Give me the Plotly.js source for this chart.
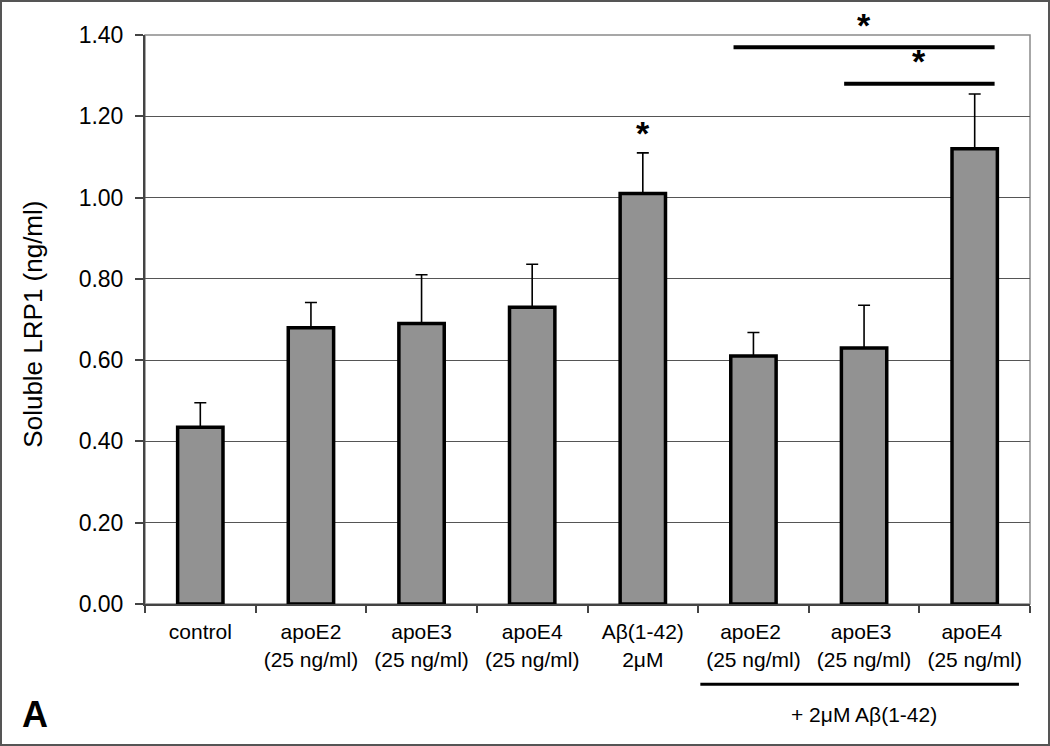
<!DOCTYPE html>
<html>
<head>
<meta charset="utf-8">
<script src="https://cdn.plot.ly/plotly-3.0.1.min.js"></script>
<style>
  body { margin: 0; background: #fff; }
  #lrp { width: 1050px; height: 746px; }
  #frame { position: absolute; left: 0; top: 0; width: 1050px; height: 746px;
           box-sizing: border-box; border: 2px solid #555; pointer-events: none; }
</style>
</head>
<body>
<div id="lrp"></div>
<div id="frame"></div>
<script>
// soluble LRP1 per treatment
var groups = ['control', 'apoE2<br>(25 ng/ml)', 'apoE3<br>(25 ng/ml)', 'apoE4<br>(25 ng/ml)',
              'Aβ(1-42)<br>2μM', 'apoE2 <br>(25 ng/ml)', 'apoE3 <br>(25 ng/ml)', 'apoE4 <br>(25 ng/ml)'];
var meanLRP1 = [0.435, 0.68, 0.69, 0.73, 1.01, 0.61, 0.63, 1.12];
var semLRP1 = [0.06, 0.062, 0.12, 0.106, 0.1, 0.058, 0.105, 0.135];

// significance marks: [from group, to group, level]
var sigBars = [[5, 7, 1.37], [6, 7, 1.28]];
var sigSingle = [[4, 1.16]];

var trace1 = {
    x: groups,
    y: meanLRP1,
    type: 'bar',
    width: 0.41,
    marker: { color: '#929292', line: { color: '#000000', width: 3.5 } },
    error_y: {
        type: 'data',
        symmetric: false,
        array: semLRP1,
        arrayminus: meanLRP1.map(function () { return 0; }),
        color: '#000000',
        thickness: 1.6,
        width: 6
    },
    hoverinfo: 'x+y'
};

var shapes = [
    // plot area frame (gray top/right)
    { type: 'rect', xref: 'paper', yref: 'paper', x0: 0, x1: 1, y0: 0, y1: 1,
      line: { color: '#8a8a8a', width: 1.5 }, layer: 'below' },
    // bracket under the Aβ co-treatment groups
    { type: 'line', xref: 'x', yref: 'paper', x0: 4.52, x1: 7.4, y0: -0.141, y1: -0.141,
      line: { color: '#000000', width: 3 } }
];
var annotations = [
    { xref: 'x', yref: 'paper', x: 6, y: -0.195, yanchor: 'middle', showarrow: false,
      text: '+ 2μM Aβ(1-42)', font: { size: 21, color: '#000' } },
    { xref: 'paper', yref: 'paper', x: -0.124, y: -0.195, xanchor: 'center', yanchor: 'middle',
      showarrow: false, text: '<b>A</b>', font: { size: 36, color: '#000' } },
    { xref: 'paper', yref: 'paper', x: -0.127, y: 0.492, xanchor: 'center', yanchor: 'middle',
      showarrow: false, textangle: -90, text: 'Soluble LRP1 (ng/ml)',
      font: { size: 26, color: '#000' } }
];
for (var i = 0; i < sigBars.length; i++) {
    var s = sigBars[i];
    shapes.push({ type: 'line', xref: 'x', yref: 'y', x0: s[0] - 0.18, x1: s[1] + 0.18,
                  y0: s[2], y1: s[2], line: { color: '#000000', width: 4 } });
    annotations.push({ xref: 'x', yref: 'y', x: (s[0] + s[1]) / 2, y: s[2] + 0.004,
                       yanchor: 'bottom', showarrow: false, text: '<b>*</b>',
                       font: { size: 34, color: '#000' } });
}
for (var j = 0; j < sigSingle.length; j++) {
    annotations.push({ xref: 'x', yref: 'y', x: sigSingle[j][0], y: sigSingle[j][1],
                       yanchor: 'middle', showarrow: false, text: '<b>*</b>',
                       font: { size: 34, color: '#000' } });
}

var layout = {
    width: 1050,
    height: 746,
    margin: { l: 145, r: 20, t: 35, b: 142 },
    paper_bgcolor: '#ffffff',
    plot_bgcolor: '#ffffff',
    font: { family: 'Liberation Sans, Arial, sans-serif', color: '#000' },
    showlegend: false,
    xaxis: {
        type: 'category',
        showline: true,
        linecolor: '#444444',
        linewidth: 2,
        ticks: 'outside',
        tickson: 'boundaries',
        ticklen: 7,
        tickcolor: '#444444',
        tickwidth: 1.5,
        ticklabelstandoff: 8,
        showgrid: false,
        tickfont: { size: 21 }
    },
    yaxis: {
        range: [0, 1.4],
        dtick: 0.2,
        tickformat: '.2f',
        showline: true,
        linecolor: '#444444',
        linewidth: 2,
        ticks: 'outside',
        ticklen: 8,
        tickcolor: '#444444',
        tickwidth: 1.5,
        ticklabelstandoff: 7,
        showgrid: true,
        gridcolor: '#555555',
        gridwidth: 1.2,
        zeroline: false,
        tickfont: { size: 23 }
    },
    shapes: shapes,
    annotations: annotations
};

Plotly.newPlot('lrp', [trace1], layout, { displayModeBar: false });
</script>
</body>
</html>
